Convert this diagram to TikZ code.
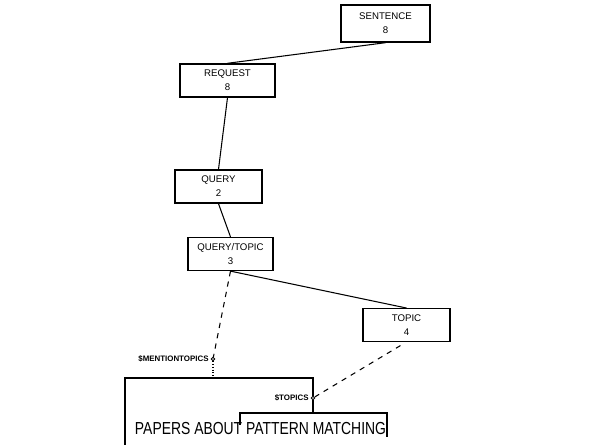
\documentclass[tikz,border=0pt]{standalone}
\usepackage{fontspec}
\setmainfont{Liberation Sans}
\newfontfamily\narrowfont[FakeStretch=0.8]{Liberation Sans}
\begin{document}
\begin{tikzpicture}[x=0.02cm, y=-0.02cm, line width=0.6pt,
    main node/.style={rectangle, draw, line width=0.8pt, align=center, minimum width=1.76cm, minimum height=0.66cm, font=\fontsize{5.5}{8}\selectfont},
    slot node/.style={circle, draw, line width=0.5pt, inner sep=0pt, minimum size=0.07cm}]
                \tikzstyle{every node}=[font=\small]
                \useasboundingbox (0,0) rectangle (600,445);

                  \node[main node, minimum width=1.78cm, minimum height=0.74cm] (sentence) at (385.5,23.5) {SENTENCE\\8};
                  \node[main node, minimum width=1.9cm] (request) at (227.5,80.5) {REQUEST\\8};
                  \node[main node, minimum width=1.74cm] (query) at (218.5,186.5) {QUERY\\2};
                  \node[main node, minimum width=1.7cm, minimum height=0.56cm] (querytopic) at (230.5,254) {QUERY/TOPIC\\3};
                  \node[main node, minimum width=1.74cm, minimum height=0.64cm] (topic) at (406.5,325) {TOPIC\\4};

                  \node[slot node, label={[font=\fontsize{4.5}{5}\selectfont\bfseries, inner sep=1pt]left:\$MENTIONTOPICS}] (mention) at (213,359) {};
                  \node[slot node, label={[font=\fontsize{4.5}{5}\selectfont\bfseries, inner sep=1pt]left:\$TOPICS}] (topics) at (313,398) {};

                  \node[font=\narrowfont\fontsize{9.9}{12}\selectfont, inner sep=0pt] (papers) at (260.5,428.5) {PAPERS ABOUT PATTERN MATCHING};

                  % bracket corners
                  \coordinate (outer) at (125,445);
                  \coordinate (outerjoin) at (313,378);
                  \coordinate (inner) at (240,425);
                  \coordinate (innerend) at (387,437);

                  \path
                    (request.north) edge (sentence.south)
                    (request.south) edge (query.north)
                    (query.south) edge (querytopic.north)
                    (querytopic.south) edge (topic.north)
                       	edge[dashed] (mention)
                    (topic.south) edge[dashed, shorten <=4pt] (topics);

                  \draw (outer) |- (outerjoin) -- (topics);
                  \draw[densely dotted] (mention) -- (mention |- outerjoin);
                  \draw (topics) -- (313,413);
                  \draw (inner) |- (innerend |- 0,413) -- (innerend);

                \end{tikzpicture}
\end{document}
